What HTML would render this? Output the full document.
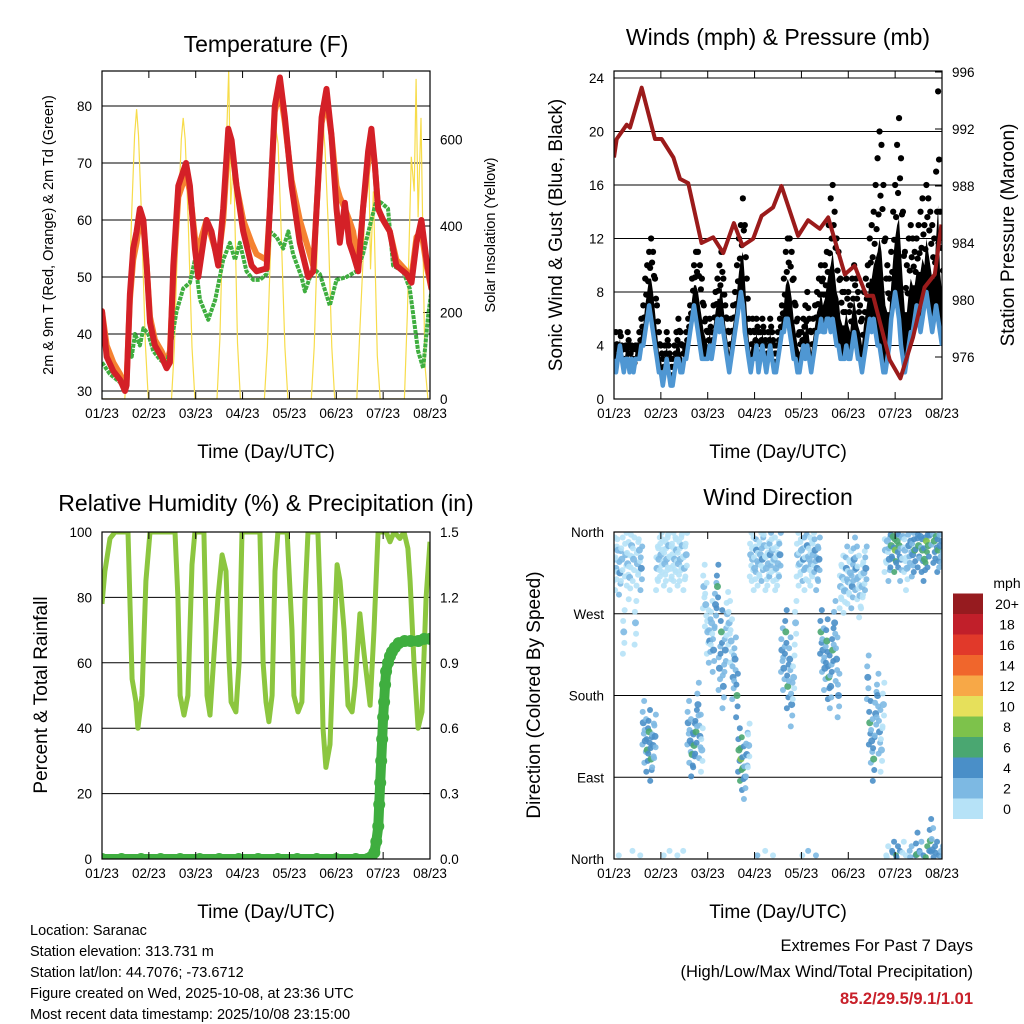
<!DOCTYPE html>
<html><head><meta charset="utf-8"><title>Saranac station charts</title>
<style>
html,body{margin:0;padding:0;background:#fff;}
svg{display:block;font-family:"Liberation Sans",Arial,sans-serif;}
</style></head>
<body>
<svg id="root" width="1024" height="1024" viewBox="0 0 1024 1024" xmlns="http://www.w3.org/2000/svg">
<rect width="1024" height="1024" fill="#fff"/>
<defs>
<clipPath id="c1"><rect x="102" y="71" width="328" height="328"/></clipPath>
<clipPath id="c2"><rect x="614" y="71" width="328" height="328"/></clipPath>
<clipPath id="c3"><rect x="102" y="532" width="328" height="327"/></clipPath>
<clipPath id="c4"><rect x="614" y="532" width="328" height="327"/></clipPath>
</defs>
<text x="266" y="52" font-size="23" text-anchor="middle">Temperature (F)</text>
<text x="778" y="45" font-size="23" text-anchor="middle">Winds (mph) &amp; Pressure (mb)</text>
<text x="266" y="511" font-size="23" text-anchor="middle">Relative Humidity (%) &amp; Precipitation (in)</text>
<text x="778" y="505" font-size="23" text-anchor="middle">Wind Direction</text>
<text x="266" y="458" font-size="19" text-anchor="middle">Time (Day/UTC)</text>
<text x="778" y="458" font-size="19" text-anchor="middle">Time (Day/UTC)</text>
<text x="266" y="918" font-size="19" text-anchor="middle">Time (Day/UTC)</text>
<text x="778" y="918" font-size="19" text-anchor="middle">Time (Day/UTC)</text>
<text transform="translate(53,235) rotate(-90)" font-size="14.5" text-anchor="middle">2m &amp; 9m T (Red, Orange) &amp; 2m Td (Green)</text>
<text transform="translate(495,235) rotate(-90)" font-size="14.5" text-anchor="middle">Solar Insolation (Yellow)</text>
<text transform="translate(562,235) rotate(-90)" font-size="19" text-anchor="middle">Sonic Wind &amp; Gust (Blue, Black)</text>
<text transform="translate(1014,235) rotate(-90)" font-size="19" text-anchor="middle">Station Pressure (Maroon)</text>
<text transform="translate(47,695) rotate(-90)" font-size="19" text-anchor="middle">Percent &amp; Total Rainfall</text>
<text transform="translate(540,695) rotate(-90)" font-size="19" text-anchor="middle">Direction (Colored By Speed)</text>
<g font-size="14.5">
<text x="30" y="935">Location: Saranac</text>
<text x="30" y="956">Station elevation: 313.731 m</text>
<text x="30" y="977">Station lat/lon: 44.7076; -73.6712</text>
<text x="30" y="998">Figure created on Wed, 2025-10-08, at 23:36 UTC</text>
<text x="30" y="1019">Most recent data timestamp: 2025/10/08 23:15:00</text>
</g>
<text x="973" y="951" font-size="16.5" text-anchor="end">Extremes For Past 7 Days</text>
<text x="973" y="977" font-size="16.5" text-anchor="end">(High/Low/Max Wind/Total Precipitation)</text>
<text x="973" y="1004" font-size="16.5" font-weight="bold" fill="#c8202a" text-anchor="end">85.2/29.5/9.1/1.01</text>
</svg>
<script>
// ---------- data ----------
const dayLabels = ["01/23","02/23","03/23","04/23","05/23","06/23","07/23","08/23"];
const tHours = [0,2.4,5.8,9.2,11.8,12.6,14.3,16,17.7,19.4,21.2,22.9,24.6,27.1,30.5,33.1,34.8,36.5,39.1,43,45,47.6,49.3,51,53.6,56.1,59.5,62.1,64.7,66.4,68.9,72.3,76.6,79.2,84.3,86,88.5,91.1,93.7,97.1,101.3,105.6,108.2,109.9,112.5,115,117.5,120.1,121.8,124.4,126.6,128.6,131.2,133.7,136.3,138,139.7,141.4,144,147.4,150.8,156,158.5,161.1,163.6,166.2,168.7];
const tRed = [44,36,33.5,32,30,31,47,55,58,62,60,52,42,38,36,34,35,52,66,70,66,55,50,54,60,58,52,62,76,74,66,58,52,51,51.5,62,80,85,78,66,56,50,51,62,78,83,75,62,56,63,56,54,51,62,72,76,70,62,60,58,52,50.5,49,56,60,53,48];
const tOrange = [44,38,35,33,31,32,46,53,56,60,59,52,43,39,37,35,37,50,64,68,65,57,54,57,60,57,53,60,74,73,66,60,56,54,53,62,79,83,77,67,60,55,52,62,77,81,75,66,64,62,60,58,52,62,70,74,70,62,60,58,53,51,50,57,58,52,48];
const dHours = [0,4,9.2,11.8,13.5,15.2,16.9,19.4,21.2,23.7,26.3,29.7,33.1,35.7,38.2,41.6,45,47.6,50.2,54.4,58,62.1,65.5,68.1,70.6,74,77.5,80.9,84.3,86,89.4,92.8,95.4,97.9,102.2,103.9,108.2,111.6,116.7,120.1,125.2,130.3,133.7,137.2,140.6,143.1,146.5,149.1,154.2,157.6,161.9,164.5,167,168.7];
const dew = [35,33,31.5,30,39,36,40,38,41,40,37,35.5,34.5,39,44,48,49,53,46,42.5,46,53,56,53,56,51,49.5,49.5,50.5,58,57,55,58,54,50,47.5,51.5,50.5,45,49.5,50,51,54,59,63.5,63,62,52,51,48,37,34,43,47.5];
const sHours = [0,11.7,13.2,15.2,16.7,17.7,18.7,20.2,22.2,23.7,35.6,37.1,39.1,40.6,41.6,42.6,44.1,46.1,47.6,58.9,60.4,62.4,63.9,64.9,65.9,67.4,69.4,70.9,83.2,84.7,86.7,88.2,89.2,90.2,91.7,93.7,95.2,107.2,108.7,110.7,112.2,113.2,114.2,115.7,117.7,119.2,130.5,132,134,135.5,136.5,137.5,139,141,142.5,154.9,156.4,158.4,159.9,160.9,161.9,163.4,165.4,166.9,168];
const solar = [0,0,130,430,610,670,610,430,130,0,0,120,420,600,650,600,420,120,0,0,140,500,620,760,450,560,130,0,0,120,400,590,620,590,400,120,0,0,120,420,600,640,580,420,120,0,0,150,350,580,600,300,480,100,0,0,200,560,480,740,420,650,80,0,0];
const wind = [3,2,3,4,3,2,3,3,2,3,2,3, 3,3,4,4,5,6,7,6,5,4,3,2, 2,1,2,3,2,1,1,2,3,3,2,2, 3,3,4,5,6,7,6,5,4,3,3,3, 3,4,3,4,5,6,5,6,5,4,3,2, 3,4,5,6,7,8,7,5,4,3,2,3, 3,4,2,3,4,3,2,3,4,3,2,2, 3,4,5,5,6,6,5,4,3,3,2,2, 3,4,3,4,3,2,3,4,5,5,6,5, 5,6,6,5,6,5,4,4,3,3,3,4, 3,3,4,5,4,3,3,2,3,4,5,6, 5,6,5,4,4,3,2,2,3,4,6,7, 8,7,6,4,3,2,3,4,5,5,6,7, 6,5,6,7,8,7,6,5,6,7,6,5,4];
const gust = [4,5,4,5,4,3,4,5,4,4,3,4, 4,5,6,7,9,10,11,12,11,9,7,5, 4,3,4,5,4,3,3,4,5,6,5,4, 4,5,6,7,9,10,11,11,10,9,7,6, 5,6,5,7,8,9,10,11,9,7,6,5, 6,7,8,10,12,13,15,13,9,6,5,6, 5,6,5,5,6,5,4,5,6,5,4,4, 5,6,7,9,11,12,12,11,9,7,6,5, 5,6,7,8,6,5,6,7,8,9,10,9, 10,11,13,15,16,14,12,11,9,8,8,9, 8,7,9,10,9,8,7,6,8,9,10,12, 13,14,16,18,20,19,16,12,10,9,11,14, 16,19,21,18,14,11,10,12,13,12,11,12, 13,14,15,13,16,15,14,13,12,17,23,14,12];
const pHours = [0,1.4,6.5,8.2,14.2,21,24.4,30.4,33.8,38,44.8,50.8,56,61.4,65.8,71.3,75.6,81.5,85.8,94.3,99.4,105.4,109.7,118.2,123.3,129.3,132.7,141.2,146.7,153.2,159.1,164.3,167.7];
const pres = [990,991.3,992.3,992.1,994.9,991.3,991.3,990,988.5,988.2,984,984.4,983.3,985.4,983.8,984.3,985.9,986.5,988,984.5,985.6,985,985.8,981.8,982.4,980.3,980.3,975.8,974.5,977.4,980.9,981.8,985.3];
const rhHours = [0,1.5,4.1,6.7,13.3,15.4,17.4,18.4,20.5,22.5,24.6,37.4,38.9,40,42,44,46.1,47.6,52.2,53.3,53.8,55.3,57.4,59.4,61.5,63.5,65,66.1,68.6,70.2,71.7,80.9,82.5,84,85.5,87.1,88.6,90.1,94.8,97.3,98.3,100.4,102.4,104,105.5,110.6,111.7,113.2,114.7,116.8,118.3,120.4,121.9,124,126,128.1,129.6,132.1,134.2,137.3,139.3,141.4,145.5,147.5,149.6,152.6,154.7,156.7,157.8,159.8,161.9,163.9,166,168];
const rh = [78,88,98,100,100,55,48,40,50,85,100,100,80,50,44,50,90,100,100,70,50,44,63,80,93,88,62,48,45,60,100,100,60,48,42,50,88,100,100,70,50,45,48,80,100,100,80,40,28,35,60,90,85,70,47,45,53,75,63,47,70,100,100,97,100,98,100,95,85,60,40,45,80,97];
const prHours = [0,10,20,30,40,50,60,70,80,90,100,110,120,130,136,138,139.5,140.5,141.5,142,142.5,143,143.5,144,144.5,145,145.5,146.5,147.5,148.5,150,152,155,158,162,165,168];
const precip = [0,0,0,0,0,0,0,0,0,0,0,0,0,0,0,0.01,0.03,0.08,0.15,0.25,0.35,0.45,0.55,0.65,0.72,0.8,0.86,0.9,0.93,0.95,0.97,0.99,1.0,1.0,1.0,1.01,1.01];
const dir = [330,320,340,315,330,250,335,325,310,345,330,260, 325,340,320,150,130,120,140,110,125,135,320,330, 335,340,325,330,345,320,335,330,340,325,330,345, 320,335,150,130,115,125,140,170,135,120,300,280, 250,240,260,230,280,300,210,250,190,230,270,260, 240,200,220,180,120,110,100,90,115,125,335,330, 320,340,325,335,330,345,320,325,335,340,330,320, 325,335,230,210,250,190,220,170,200,260,335,325, 340,330,320,345,330,325,335,340,320,330,250,230, 210,240,200,190,230,260,220,180,300,310,295,320, 305,315,300,330,320,310,290,300,315,320,200,150, 130,110,160,180,140,120,170,340,350,330,345,355, 340,350,345,330,355,340,320,345,350,335,340,5, 345,355,340,330,350,345,20,10,350,355,340,345,350];
const tempTicks = [30,40,50,60,70,80];
const solarTicks = [0,200,400,600];
const windTicks = [0,4,8,12,16,20,24];
const presTicks = [976,980,984,988,992,996];
const rhTicks = [0,20,40,60,80,100];
const prTicks = ["0.0","0.3","0.6","0.9","1.2","1.5"];
const dirTicks = [0,90,180,270,360];
const dirLabels = ["North","East","South","West","North"];
const speedLabels = ["0","2","4","6","8","10","12","14","16","18","20+"];
const speedColors = ["#b6e2f7","#7db9e3","#4a8fc8","#4aa771","#7dc24b","#e6e05b","#f7a847","#f0662c","#e1392a","#c11f2a","#961b1f"];

// ---------- helpers ----------
const NS = "http://www.w3.org/2000/svg";
const root = document.getElementById("root");
function mk(tag, attrs, parent){ const e = document.createElementNS(NS, tag); for (const k in attrs) e.setAttribute(k, attrs[k]); (parent||root).appendChild(e); return e; }
const W = 328;
function xAt(x0, h){ return x0 + h/168*W; }
const yTemp = v => 391 - (v-30)*5.7;
const ySol = v => 399 - v*0.4325;
const yWind = v => 399 - v*13.375;
const yPres = v => 357 - (v-976)*14.25;
const yRH = v => 859 - v*3.27;
const yPr = v => 859 - v*218;
const yDir = v => 859 - v*327/360;

function frame(x0, y0, h, name){
  const r = mk("rect", {x:x0, y:y0, width:W, height:h, fill:"none", stroke:"#000", "stroke-width":1.2});
  
  
  dayLabels.forEach((lab, i) => {
    const x = x0 + i*W/7;
    const t1 = mk("line", {x1:x, x2:x, y1:y0+h, y2:y0+h-7, stroke:"#000", "stroke-width":1});
    
    
    const t2 = mk("line", {x1:x, x2:x, y1:y0, y2:y0+7, stroke:"#000", "stroke-width":1});
    
    
    const tx = mk("text", {x:x, y:y0+h+19, "font-size":13.5, "text-anchor":"middle"});
    tx.textContent = lab;
    
    
  });
}
function leftTicks(x0, vals, yf, labels, grid){
  vals.forEach((v, i) => {
    const y = yf(v);
    if (grid){
      const g = mk("line", {x1:x0, x2:x0+W, y1:y, y2:y, stroke:"#000", "stroke-width":1});
      
      
    }
    const t = mk("text", {x:x0-10, y:y+5, "font-size":13.5, "text-anchor":"end"});
    t.textContent = labels ? labels[i] : v;
    
    
  });
}
function rightTicks(x0, vals, yf, labels){
  vals.forEach((v, i) => {
    const y = yf(v);
    const tk = mk("line", {x1:x0+W, x2:x0+W-7, y1:y, y2:y, stroke:"#000", "stroke-width":1});
    
    
    const t = mk("text", {x:x0+W+10, y:y+5, "font-size":13.5});
    t.textContent = labels ? labels[i] : v;
    
    
  });
}
function pts(x0, hs, vs, yf){ return hs.map((h, i) => xAt(x0, h).toFixed(1) + "," + yf(Number(vs[i])).toFixed(1)).join(" "); }

// ---------- panel 1: temperature ----------
leftTicks(102, tempTicks, yTemp, null, true);
rightTicks(102, solarTicks, ySol, null);
const g1 = mk("g", {"clip-path":"url(#c1)"});


const solLine = mk("polyline", {points:pts(102, sHours, solar, ySol), fill:"none", stroke:"#f7dc4a", "stroke-width":1.2}, g1);


const orLine = mk("polyline", {points:pts(102, tHours, tOrange, yTemp), fill:"none", stroke:"#f58231", "stroke-width":6, "stroke-linejoin":"round", "stroke-linecap":"round"}, g1);


const dwLine = mk("polyline", {points:pts(102, dHours, dew, yTemp), fill:"none", stroke:"#3fae3f", "stroke-width":4, "stroke-dasharray":"4 1", "stroke-linejoin":"round"}, g1);


const rdLine = mk("polyline", {points:pts(102, tHours, tRed, yTemp), fill:"none", stroke:"#d42027", "stroke-width":6, "stroke-linejoin":"round", "stroke-linecap":"round"}, g1);


frame(102, 71, 328, "temperature");

// ---------- panel 2: winds ----------
leftTicks(614, windTicks, yWind, null, true);
rightTicks(614, presTicks, yPres, null);
const g2 = mk("g", {"clip-path":"url(#c2)"});


const hrs = wind.map((_, i) => i);
const mid = wind.map((w, i) => (w + gust[i]) / 2);
const bandPts = pts(614, hrs, mid, yWind) + " " + pts(614, hrs.slice().reverse(), wind.slice().reverse(), yWind);
const band = mk("polygon", {points:bandPts, fill:"#000"}, g2);


const fracs = [0.7, 1.0];
gust.forEach((v, i) => {
  fracs.forEach(f => {
    const val = wind[i] + (v - wind[i]) * f;
    const c = mk("circle", {cx:xAt(614, i + (f < 1 ? 0.5 : 0)), cy:yWind(val), r:3.1, fill:"#000"}, g2);
    
    
  });
});
const wl = mk("polyline", {points:pts(614, hrs, wind, yWind), fill:"none", stroke:"#4f97d3", "stroke-width":4.5, "stroke-linejoin":"round"}, g2);


const pl = mk("polyline", {points:pts(614, pHours, pres, yPres), fill:"none", stroke:"#9b1b1b", "stroke-width":4, "stroke-linejoin":"round"}, g2);


frame(614, 71, 328, "wind");

// ---------- panel 3: RH & precip ----------
leftTicks(102, rhTicks, yRH, null, true);
rightTicks(102, prTicks.map(Number), yPr, prTicks);
const g3 = mk("g", {"clip-path":"url(#c3)"});


const rl = mk("polyline", {points:pts(102, rhHours, rh, yRH), fill:"none", stroke:"#8cc63f", "stroke-width":5, "stroke-linejoin":"round"}, g3);


const prl = mk("polyline", {points:pts(102, prHours, precip, yPr), fill:"none", stroke:"#3fae3f", "stroke-width":10, "stroke-linejoin":"round"}, g3);


prHours.forEach((h, i) => {
  const c = mk("circle", {cx:xAt(102, h), cy:yPr(precip[i]), r:6, fill:"#3fae3f"}, g3);
  
  
});
frame(102, 532, 327, "humidity");

// ---------- panel 4: wind direction ----------
dirTicks.forEach((v, i) => {
  const y = yDir(v);
  const g = mk("line", {x1:614, x2:614+W, y1:y, y2:y, stroke:"#000", "stroke-width":1});
  
  
  const t = mk("text", {x:604, y:y+5, "font-size":13.5, "text-anchor":"end"});
  t.textContent = dirLabels[i];
  
  
});
const g4 = mk("g", {"clip-path":"url(#c4)"});


const spreadDeg = [-24, -12, 0, 12, 24];
const spreadHr = [-0.45, 0.3, 0, -0.3, 0.45];
dir.forEach((d, i) => {
  spreadDeg.forEach((o, k) => {
    const sp = Math.max(0, wind[i] - (k === 2 ? 0 : 1.5));
    const col = speedColors[Math.min(10, Math.floor(sp/2))];
    const c = mk("circle", {cx:xAt(614, i + spreadHr[k]), cy:yDir(((d + o) % 360 + 360) % 360), r:k===2?3.5:3, fill:col, opacity:0.9}, g4);
    
    
  });
});
frame(614, 532, 327, "direction");

// colorbar
const cbTitle = mk("text", {x:1007, y:588, "font-size":14, "text-anchor":"middle"});
cbTitle.textContent = "mph";


speedLabels.forEach((lab, i) => {
  const y = 819 - (i+1)*20.5;
  const r = mk("rect", {x:953, y:y, width:30, height:20.5, fill:speedColors[i]});
  
  
  const t = mk("text", {x:1007, y:y+15.5, "font-size":14, "text-anchor":"middle"});
  t.textContent = lab;
  
  
});
</script>
</body></html>
